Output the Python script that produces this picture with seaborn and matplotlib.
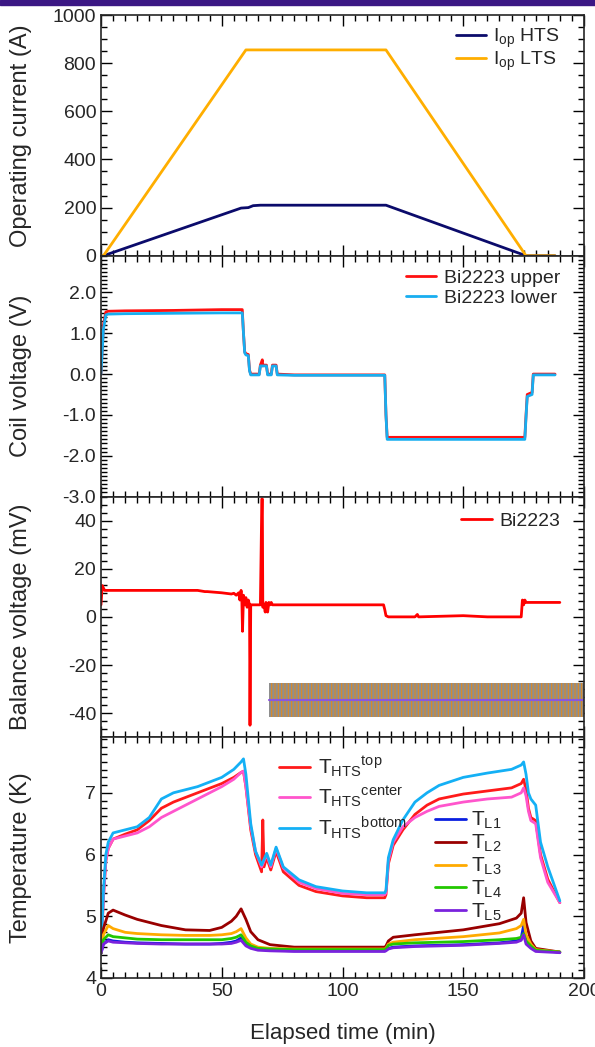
import numpy as np
import pandas as pd
import matplotlib
matplotlib.use("Agg")
import matplotlib.pyplot as plt
import seaborn as sns
from matplotlib.ticker import MultipleLocator, FormatStrFormatter
from matplotlib.patches import Rectangle

# ---------------- data ----------------
# Panel 1: operating currents
t_lts = [0, 1, 60, 118, 176, 188]
i_lts = [0, 0, 855, 855, 0, 0]
t_hts = [0, 1, 58, 61, 63, 66, 118, 176, 188]
i_hts = [0, 0, 198, 200, 208, 210, 210, 0, 0]

# Panel 2: coil voltages
t_up = [0, 1, 2, 3, 10, 30, 50, 58.5, 59, 59.5, 60, 61, 61.5, 62, 65.5, 66, 66.8, 67, 67.3, 68.5,
        69, 70.5, 71, 72.5, 73, 80, 117.5, 118, 118.5, 175.5, 176, 176.5, 178.5, 179, 188]
v_up = [0, 1.2, 1.52, 1.54, 1.55, 1.56, 1.58, 1.58, 1.0, 0.55, 0.5, 0.48, 0.1, 0.0, 0.0, 0.22,
        0.35, 0.2, 0.22, 0.22, 0.0, 0.0, 0.22, 0.22, 0.0, -0.02, -0.02, -1.0, -1.55, -1.55, -1.0,
        -0.5, -0.45, 0.0, 0.0]
t_lo = [0, 1, 2, 3, 10, 30, 50, 58.5, 59, 59.5, 60, 61, 61.5, 62, 65.5, 66, 67, 68.5,
        69, 70.5, 71, 72.5, 73, 80, 117.5, 118, 118.5, 175.5, 176, 176.5, 178.5, 179, 188]
v_lo = [0, 1.1, 1.45, 1.47, 1.48, 1.49, 1.5, 1.5, 1.0, 0.52, 0.47, 0.45, 0.08, -0.02, -0.02, 0.2,
        0.2, 0.2, -0.02, -0.02, 0.2, 0.2, -0.02, -0.03, -0.03, -1.0, -1.6, -1.6, -1.05,
        -0.55, -0.5, -0.02, -0.02]

# Panel 3: balance voltage
t_bal = [0, 0.5, 1, 1.5, 2.5, 40, 43, 44, 50, 54, 55, 56, 57, 57.5, 58, 58.3, 58.6, 59, 59.5, 60,
         60.5, 61, 61.5, 61.7, 62, 62.5, 65, 66, 66.6, 66.8, 67, 67.5, 68, 68.3, 68.6, 69, 69.5,
         70, 70.5, 71, 72, 73, 117, 117.5, 118, 119, 130, 131, 131.5, 150, 160, 174, 174.5, 175,
         175.5, 176, 177, 178, 190]
v_bal = [5, 13, 12, 11, 11, 11, 10.5, 10.5, 10, 9.5, 9.8, 9, 10, 7, 11, 8, -6, 9, 5, 8, 4, 7, 5,
         -45, 5, 5, 5, 5, 49, 49, 4, 5, 2, 6, 5, 2, 6, 5, 6, 5, 5, 5, 5, 3, 0.5, 0, 0, 1, 0, 0.5,
         0, 0, 7, 5, 7, 6, 6, 6, 6]
block_x = [69.5, 200]
block_lo = [-41.5, -41.5]
block_hi = [-27.5, -27.5]
block_mid = [-34.5, -34.5]

# Panel 4: temperatures
t_htst = [0, 1, 2, 3, 5, 10, 15, 20, 25, 30, 40, 50, 55, 58, 59, 60, 62, 64, 66.5, 67, 67.5, 68.6,
          70.3, 72.5, 75.5, 82, 89, 100, 110, 117.5, 118, 119, 121, 125, 130, 135, 140, 150, 160,
          170, 174, 175, 176, 177, 178, 180, 182, 185, 190]
T_top = [4.4, 5.3, 5.9, 6.1, 6.25, 6.33, 6.4, 6.55, 6.75, 6.85, 7.0, 7.15, 7.25, 7.33, 7.35, 7.1,
         6.4, 6.0, 5.72, 6.56, 5.8, 5.95, 5.75, 6.05, 5.72, 5.5, 5.4, 5.33, 5.3, 5.3, 5.35, 5.85,
         6.15, 6.4, 6.65, 6.8, 6.9, 6.98, 7.03, 7.08, 7.15, 7.22, 7.05, 6.75, 6.6, 6.55, 6.0, 5.6,
         5.22]
t_htsc = [0, 1, 2, 3, 5, 10, 15, 20, 25, 30, 40, 50, 55, 58, 59, 60, 62, 64, 66.5, 68.6,
          70.3, 72.5, 75.5, 82, 89, 100, 110, 117.5, 118, 119, 121, 125, 130, 135, 140, 150, 160,
          170, 174, 175, 176, 177, 178, 180, 182, 185, 190]
T_cen = [4.4, 5.3, 5.9, 6.1, 6.25, 6.3, 6.35, 6.45, 6.6, 6.7, 6.9, 7.1, 7.22, 7.33, 7.35, 7.1,
         6.45, 6.05, 5.8, 6.0, 5.8, 6.1, 5.78, 5.55, 5.45, 5.37, 5.35, 5.35, 5.38, 5.9,
         6.2, 6.45, 6.6, 6.7, 6.78, 6.85, 6.9, 6.93, 7.0, 7.08, 6.95, 6.7, 6.55, 6.5, 5.95, 5.55,
         5.22]
t_htsb = [0, 1, 2, 3, 5, 10, 15, 20, 25, 30, 40, 50, 55, 58, 59, 60, 62, 64, 66.5, 68.6,
          70.3, 72.5, 75.5, 82, 89, 100, 110, 117.5, 118, 119, 121, 125, 130, 135, 140, 150, 160,
          170, 174, 175, 176, 177, 178, 180, 182, 185, 190]
T_bot = [4.4, 5.4, 6.0, 6.2, 6.35, 6.4, 6.45, 6.6, 6.9, 7.0, 7.1, 7.25, 7.38, 7.5, 7.55, 7.3,
         6.5, 6.05, 5.83, 6.02, 5.83, 6.12, 5.8, 5.59, 5.48, 5.41, 5.38, 5.38, 5.42, 5.95,
         6.24, 6.56, 6.85, 7.0, 7.12, 7.25, 7.32, 7.38, 7.45, 7.5, 7.3, 7.0, 6.9, 6.8, 6.2, 5.8,
         5.25]

t_L = [0, 1, 3, 5, 10, 15, 25, 35, 45, 50, 54, 56, 58, 60, 62, 65, 70, 80, 117.5, 118, 119, 121,
       130, 150, 165, 172, 174, 175, 176, 178, 180, 190]
T_L1 = [4.4, 4.55, 4.62, 4.6, 4.58, 4.57, 4.56, 4.55, 4.55, 4.56, 4.58, 4.6, 4.65, 4.55, 4.5,
        4.47, 4.45, 4.44, 4.44, 4.45, 4.48, 4.5, 4.52, 4.54, 4.57, 4.6, 4.65, 4.85, 4.6, 4.5,
        4.45, 4.42]
T_L2 = [4.4, 4.8, 5.05, 5.1, 5.02, 4.95, 4.85, 4.78, 4.77, 4.82, 4.92, 5.0, 5.12, 4.95, 4.75,
        4.62, 4.54, 4.5, 4.5, 4.52, 4.6, 4.66, 4.7, 4.78, 4.88, 4.97, 5.05, 5.3, 4.9, 4.6, 4.48,
        4.42]
T_L3 = [4.4, 4.7, 4.85, 4.8, 4.74, 4.72, 4.7, 4.69, 4.69, 4.7, 4.72, 4.75, 4.8, 4.65, 4.55,
        4.5, 4.48, 4.47, 4.47, 4.48, 4.55, 4.58, 4.62, 4.67, 4.73, 4.8, 4.85, 4.95, 4.7, 4.55,
        4.46, 4.42]
T_L4 = [4.4, 4.62, 4.7, 4.67, 4.65, 4.63, 4.62, 4.62, 4.62, 4.62, 4.64, 4.66, 4.7, 4.58, 4.52,
        4.48, 4.47, 4.46, 4.46, 4.47, 4.53, 4.55, 4.57, 4.59, 4.62, 4.64, 4.66, 4.72, 4.6, 4.52,
        4.45, 4.42]
T_L5 = [4.4, 4.55, 4.6, 4.58, 4.57, 4.56, 4.55, 4.55, 4.55, 4.55, 4.56, 4.58, 4.61, 4.52, 4.48,
        4.45, 4.44, 4.43, 4.43, 4.44, 4.47, 4.49, 4.51, 4.53, 4.56, 4.58, 4.61, 4.7, 4.55, 4.48,
        4.43, 4.41]

# ---------------- style ----------------
sns.set_style("ticks")
plt.rcParams["font.family"] = ["Liberation Sans", "DejaVu Sans"]
plt.rcParams["mathtext.fontset"] = "custom"
plt.rcParams["mathtext.rm"] = "Liberation Sans"
plt.rcParams["mathtext.it"] = "Liberation Sans:italic"
plt.rcParams["axes.unicode_minus"] = False
plt.rcParams["font.size"] = 13
plt.rcParams["hatch.linewidth"] = 0.8

fig = plt.figure(figsize=(5.95, 10.47), dpi=100)
gs = fig.add_gridspec(4, 1, left=101 / 595, right=584 / 595, top=1 - 15 / 1047,
                      bottom=1 - 978 / 1047, hspace=0)
axes = [fig.add_subplot(gs[i]) for i in range(4)]
for ax in axes[1:]:
    ax.sharex(axes[0])

fig.patches.append(Rectangle((0, 1 - 5 / 1047), 1, 5 / 1047, transform=fig.transFigure,
                             color="#3b1784", zorder=10))

lw = 2.0

def line(ax, x, y, color, label=None, lw=lw):
    sns.lineplot(x=x, y=y, ax=ax, color=color, label=label, sort=False, estimator=None,
                 linewidth=lw)

# Panel 1
ax = axes[0]
line(ax, t_hts, i_hts, "#0b0b6b", r"$\mathrm{I_{op}}$ HTS")
line(ax, t_lts, i_lts, "#ffae00", r"$\mathrm{I_{op}}$ LTS")
ax.set_ylim(0, 1000)
ax.yaxis.set_major_locator(MultipleLocator(200))
ax.yaxis.set_minor_locator(MultipleLocator(50))
ax.set_ylabel("Operating current (A)", fontsize=17)

# Panel 2
ax = axes[1]
line(ax, t_up, v_up, "#ff1010", "Bi2223 upper")
line(ax, t_lo, v_lo, "#18aef0", "Bi2223 lower")
ax.set_ylim(-3.0, 2.9)
ax.yaxis.set_major_locator(MultipleLocator(1.0))
ax.yaxis.set_minor_locator(MultipleLocator(0.1))
ax.yaxis.set_major_formatter(FormatStrFormatter("%.1f"))
ax.set_ylabel("Coil voltage (V)", fontsize=17)

# Panel 3
ax = axes[2]
ax.fill_between(block_x, block_lo, block_hi, facecolor="#8e8e8e", edgecolor="#de8a22",
                hatch="|||||", linewidth=0, zorder=1)
line(ax, block_x, block_mid, "#8a55e0", None, lw=1.5)
line(ax, t_bal, v_bal, "#ff0000", "Bi2223")
ax.set_ylim(-50, 50)
ax.yaxis.set_major_locator(MultipleLocator(20))
ax.yaxis.set_minor_locator(MultipleLocator(20 / 6))
ax.set_ylabel("Balance voltage (mV)", fontsize=17)

# Panel 4
ax = axes[3]
h1 = ax.plot(t_htst, T_top, color="#ff1a1a", lw=lw)[0]
h2 = ax.plot(t_htsc, T_cen, color="#ff55cc", lw=lw)[0]
h3 = ax.plot(t_htsb, T_bot, color="#14b0f5", lw=lw)[0]
cols_L = ["#0a1fe0", "#990000", "#ffaa00", "#22c800", "#7a22dd"]
hl = []
for yv, c in zip([T_L1, T_L2, T_L3, T_L4, T_L5], cols_L):
    sns.lineplot(x=t_L, y=yv, ax=ax, color=c, sort=False, estimator=None, linewidth=lw)
    hl.append(ax.lines[-1])
ax.set_ylim(4, 7.9)
ax.yaxis.set_major_locator(MultipleLocator(1))
ax.yaxis.set_minor_locator(MultipleLocator(0.125))
ax.set_ylabel("Temperature (K)", fontsize=17)
ax.set_xlabel("Elapsed time (min)", fontsize=16, labelpad=17)

lab1 = [r"$\mathrm{T_{HTS}}^{\mathrm{top}}$", r"$\mathrm{T_{HTS}}^{\mathrm{center}}$",
        r"$\mathrm{T_{HTS}}^{\mathrm{bottom}}$"]
leg1 = ax.legend([h1, h2, h3], lab1, loc="upper left", bbox_to_anchor=(0.342, 0.98),
                 frameon=False, fontsize=15, handlelength=1.5, handletextpad=0.4,
                 labelspacing=0.25, borderaxespad=0.2)
ax.add_artist(leg1)
labL = [r"$\mathrm{T_{L%d}}$" % i for i in range(1, 6)]
ax.legend(hl, labL, loc="upper left", bbox_to_anchor=(0.675, 0.733), frameon=False,
          fontsize=15, handlelength=1.45, handletextpad=0.25, labelspacing=0.08,
          borderaxespad=0.0)

for ax, ls, yb in zip(axes[:3], [0.0, 0.1, 0.1], [0.983, 0.975, 0.968]):
    ax.legend(loc="upper right", bbox_to_anchor=(0.967, yb), frameon=False, fontsize=14,
              handlelength=1.55, handletextpad=0.4, labelspacing=ls, borderaxespad=0.0)

for i, ax in enumerate(axes):
    ax.set_xlim(0, 200)
    ax.xaxis.set_major_locator(MultipleLocator(50))
    ax.xaxis.set_minor_locator(MultipleLocator(5))
    ax.tick_params(which="both", direction="in", top=True, right=True, labelsize=14,
                   width=1.0, color="black")
    ax.tick_params(which="major", length=8)
    ax.tick_params(which="minor", length=4)
    for s in ax.spines.values():
        s.set_linewidth(1.2)
    ax.yaxis.set_label_coords(-0.143, 0.5)
    if i < 3:
        ax.tick_params(labelbottom=False)
        ax.set_xlabel("")

fig.savefig("out.png", dpi=100)
